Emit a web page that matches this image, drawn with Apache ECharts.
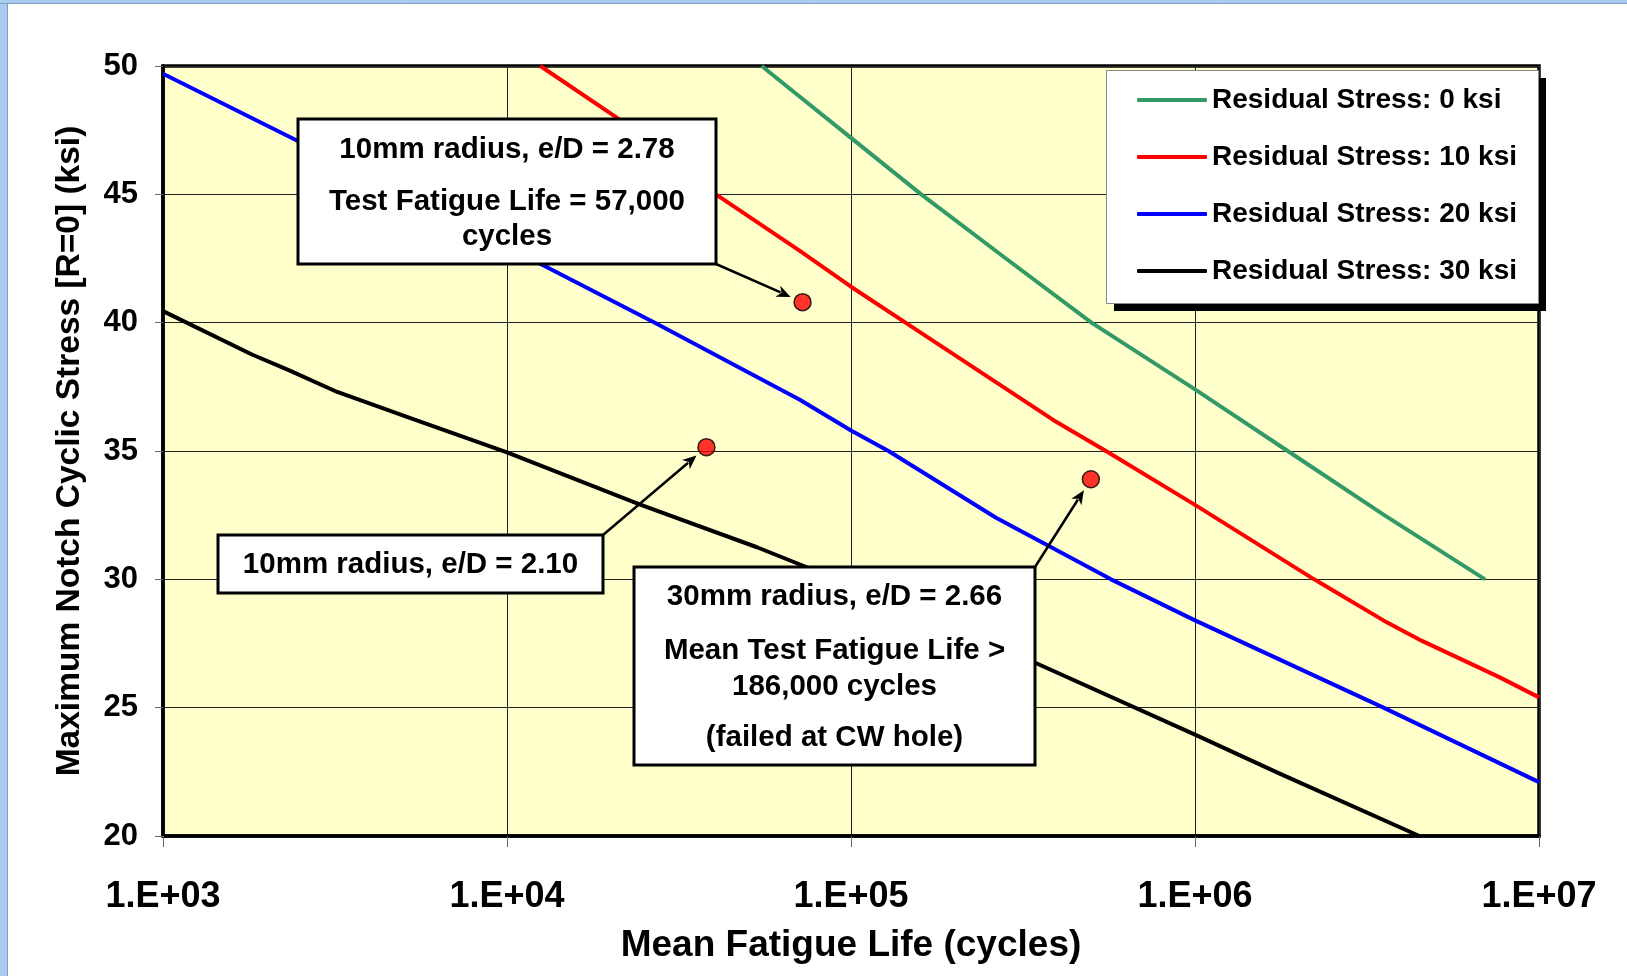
<!DOCTYPE html>
<html>
<head>
<meta charset="utf-8">
<script src="https://cdn.jsdelivr.net/npm/echarts@6/dist/echarts.min.js"></script>
<style>
  html, body { margin: 0; padding: 0; background: #fff; }
  #chart { width: 1627px; height: 976px; }
</style>
</head>
<body>
<div id="chart"></div>
<script>
// fatigue life (cycles) vs max notch cyclic stress (ksi), one pair per residual stress level
const rs0Life = [55000, 71000, 100000, 160000, 282000, 500000, 1000000, 1860000, 3550000, 6970000];
const rs0Stress = [50, 48.8, 47.2, 45.0, 42.5, 40.0, 37.4, 35.0, 32.5, 30.0];

const rs10Life = [12500, 20800, 40500, 71000, 100000, 144000, 388000, 551000, 1000000, 2220000, 3530000, 4570000, 7640000, 10000000];
const rs10Stress = [50, 48.0, 45.0, 42.8, 41.4, 40.0, 36.2, 35.0, 32.9, 30.0, 28.4, 27.6, 26.2, 25.4];

const rs20Life = [1000, 2450, 12900, 26900, 71000, 100000, 128500, 264000, 570000, 1000000, 3530000, 10000000];
const rs20Stress = [49.7, 47.1, 42.2, 40.0, 37.0, 35.8, 35.0, 32.4, 30.0, 28.4, 25.0, 22.1];

const rs30Life = [1000, 1820, 2320, 3210, 5190, 10000, 24500, 53300, 73500, 343000, 1000000, 1750000, 4490000];
const rs30Stress = [40.45, 38.75, 38.15, 37.3, 36.3, 34.95, 32.9, 31.25, 30.5, 26.75, 23.95, 22.45, 20.0];

// test results
const testLife = [72300, 38000, 498000];
const testStress = [40.8, 35.15, 33.9];

const seriesNames = ['Residual Stress: 0 ksi', 'Residual Stress: 10 ksi', 'Residual Stress: 20 ksi', 'Residual Stress: 30 ksi'];
const seriesColors = ['#339966', '#ff0000', '#0000ff', '#000000'];
const xTickLabels = ['1.E+03', '1.E+04', '1.E+05', '1.E+06', '1.E+07'];

const FONT = "'Liberation Sans', Arial, sans-serif";

function zip(a, b) {
  return a.map(function (v, i) { return [v, b[i]]; });
}

const curves = [
  zip(rs0Life, rs0Stress),
  zip(rs10Life, rs10Stress),
  zip(rs20Life, rs20Stress),
  zip(rs30Life, rs30Stress)
];

const chart = echarts.init(document.getElementById('chart'));

const lineSeries = curves.map(function (d, i) {
  return {
    type: 'line',
    name: seriesNames[i],
    data: d,
    symbol: 'none',
    smooth: false,
    z: 2,
    lineStyle: { color: seriesColors[i], width: 4, join: 'round' },
    itemStyle: { color: seriesColors[i] }
  };
});

const option = {
  animation: false,
  backgroundColor: '#ffffff',
  grid: {
    left: 163, top: 66, width: 1376, height: 770,
    show: true,
    backgroundColor: '#ffffcc',
    borderColor: '#000',
    borderWidth: 3.5
  },
  legend: {
    data: seriesNames,
    orient: 'vertical',
    left: 1106, top: 70,
    padding: [15, 20, 17, 31],
    itemGap: 27,
    icon: 'roundRect',
    itemWidth: 70, itemHeight: 4,
    selectedMode: false,
    z: 6,
    textStyle: { fontFamily: FONT, fontWeight: 'bold', fontSize: 28, color: '#000', lineHeight: 30 }
  },
  xAxis: {
    type: 'log',
    logBase: 10,
    min: 1000,
    max: 10000000,
    name: 'Mean Fatigue Life (cycles)',
    nameLocation: 'middle',
    nameGap: 91,
    nameTextStyle: { fontFamily: FONT, fontWeight: 'bold', fontSize: 37, color: '#000' },
    axisLine: { show: true, onZero: false, lineStyle: { color: '#000', width: 3.5 } },
    axisTick: { show: true, inside: false, length: 11, lineStyle: { color: '#666', width: 1 } },
    axisLabel: {
      margin: 43,
      fontFamily: FONT, fontWeight: 'bold', fontSize: 36, color: '#000',
      formatter: function (v) {
        const e = Math.round(Math.log10(v));
        return xTickLabels[e - 3];
      }
    },
    splitLine: { show: true, lineStyle: { color: '#222', width: 1 } },
    minorTick: { show: false }
  },
  yAxis: {
    type: 'value',
    min: 20,
    max: 50,
    interval: 5,
    name: 'Maximum Notch Cyclic Stress [R=0] (ksi)',
    nameLocation: 'middle',
    nameRotate: 90,
    nameGap: 76,
    nameTextStyle: { fontFamily: FONT, fontWeight: 'bold', fontSize: 33.5, color: '#000' },
    axisLine: { show: true, lineStyle: { color: '#000', width: 3.5 } },
    axisTick: { show: true, inside: false, length: 8, lineStyle: { color: '#666', width: 1 } },
    axisLabel: { margin: 25, fontFamily: FONT, fontWeight: 'bold', fontSize: 31, color: '#000' },
    splitLine: { show: true, lineStyle: { color: '#222', width: 1 } }
  },
  series: lineSeries.concat([{
    type: 'scatter',
    name: 'test',
    data: zip(testLife, testStress),
    symbol: 'circle',
    symbolSize: 17,
    z: 8,
    itemStyle: { color: '#ff0000', borderColor: '#000', borderWidth: 1.5 }
  }])
};

chart.setOption(option);

// annotation boxes (pixel layout) and arrows pointing at the test points
const boxes = [
  { x: 298, y: 119, w: 418, h: 145, from: [716, 264], point: 0,
    lines: [['10mm radius, e/D = 2.78', 150], ['Test Fatigue Life = 57,000', 202], ['cycles', 237]] },
  { x: 218, y: 535, w: 385, h: 58, from: [603, 535], point: 1,
    lines: [['10mm radius, e/D = 2.10', 565]] },
  { x: 634, y: 567, w: 401, h: 198, from: [1035, 567], point: 2,
    lines: [['30mm radius, e/D = 2.66', 597], ['Mean Test Fatigue Life >', 651], ['186,000 cycles', 687], ['(failed at CW hole)', 738]] }
];

const g = [];

// window frame strips
g.push({ type: 'rect', shape: { x: 0, y: 0, width: 7, height: 976 }, style: { fill: '#a9cbf0' }, z: 20 });
g.push({ type: 'line', shape: { x1: 7.5, y1: 0, x2: 7.5, y2: 976 }, style: { stroke: '#7f9dbd', lineWidth: 1 }, z: 20 });
g.push({ type: 'rect', shape: { x: 0, y: 0, width: 1627, height: 3 }, style: { fill: '#a9cbf0' }, z: 20 });
g.push({ type: 'line', shape: { x1: 0, y1: 3.5, x2: 1627, y2: 3.5 }, style: { stroke: '#7f9dbd', lineWidth: 1 }, z: 20 });

// legend frame with a hard drop shadow
g.push({ type: 'rect', z: 5, shape: { x: 1114, y: 78, width: 432, height: 233 }, style: { fill: '#000' } });
g.push({ type: 'rect', z: 5, shape: { x: 1106.5, y: 70.5, width: 432, height: 233 }, style: { fill: '#fff', stroke: '#888', lineWidth: 1 } });

boxes.forEach(function (b) {
  const p = chart.convertToPixel({ seriesIndex: 4 }, [testLife[b.point], testStress[b.point]]);
  const dx = p[0] - b.from[0], dy = p[1] - b.from[1];
  const len = Math.sqrt(dx * dx + dy * dy);
  const ux = dx / len, uy = dy / len;
  const tip = [p[0] - ux * 13, p[1] - uy * 13];
  const headLen = 14, headW = 6;
  const base = [tip[0] - ux * headLen, tip[1] - uy * headLen];
  g.push({
    type: 'line', z: 9,
    shape: { x1: b.from[0], y1: b.from[1], x2: base[0] + ux * 3, y2: base[1] + uy * 3 },
    style: { stroke: '#000', lineWidth: 2.5 }
  });
  g.push({
    type: 'polygon', z: 9,
    shape: { points: [tip, [base[0] - uy * headW, base[1] + ux * headW], [base[0] + ux * 4, base[1] + uy * 4], [base[0] + uy * headW, base[1] - ux * headW]] },
    style: { fill: '#000' }
  });
  g.push({
    type: 'rect', z: 10,
    shape: { x: b.x, y: b.y, width: b.w, height: b.h },
    style: { fill: '#fff', stroke: '#000', lineWidth: 3 }
  });
  b.lines.forEach(function (l) {
    g.push({
      type: 'text', z: 11,
      x: b.x + b.w / 2, y: l[1],
      style: {
        text: l[0], fill: '#000',
        font: 'bold 29.5px ' + FONT,
        textAlign: 'center', textVerticalAlign: 'middle',
        align: 'center', verticalAlign: 'middle'
      }
    });
  });
});

chart.setOption({ graphic: { elements: g } });
</script>
</body>
</html>
